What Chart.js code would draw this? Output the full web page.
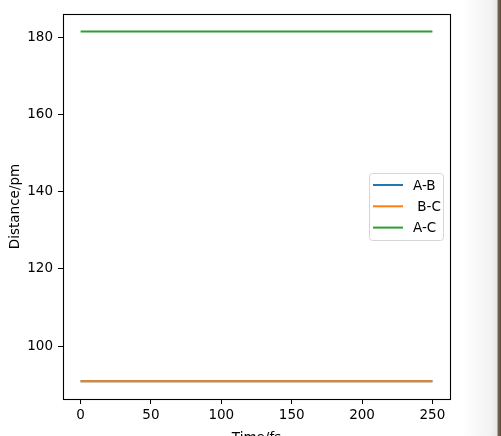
<!DOCTYPE html>
<html><head><meta charset="utf-8">
<script src="https://cdn.jsdelivr.net/npm/chart.js@4"></script>
<style>
html,body{margin:0;padding:0;}
body{width:501px;height:436px;overflow:hidden;background:linear-gradient(to right,#ffffff 0px,#ffffff 462px,#f3f3f3 490px,#e8e8e8 497px,#7a6650 498px,#5a4a3a 501px);}
#wrap{position:absolute;left:0;top:0;width:501px;height:436px;}
</style></head>
<body><div id="wrap"><canvas id="c" width="501" height="436"></canvas></div>
<script>
const times = [0, 25, 50, 75, 100, 125, 150, 175, 200, 225, 250];
const seriesLabels = ["A-B", " B-C", "A-C"];
const abValues = [90.9, 90.9, 90.9, 90.9, 90.9, 90.9, 90.9, 90.9, 90.9, 90.9, 90.9];
const bcValues = [90.9, 90.9, 90.9, 90.9, 90.9, 90.9, 90.9, 90.9, 90.9, 90.9, 90.9];
const acValues = [181.5, 181.5, 181.5, 181.5, 181.5, 181.5, 181.5, 181.5, 181.5, 181.5, 181.5];
const xTicks = [0, 50, 100, 150, 200, 250];
const yTicks = [100, 120, 140, 160, 180];
const colors = ["#1f77b4", "#ff7f0e", "#2ca02c"];
const FONT = "DejaVu Sans";
const FS = 13.5;

const mk = (vals) => times.map((t, i) => ({x: t, y: vals[i]}));

const framePlugin = {
  id: 'frame',
  afterDraw(chart) {
    const {ctx, chartArea: a} = chart;
    ctx.save();
    ctx.strokeStyle = '#000'; ctx.lineWidth = 1.1;
    ctx.strokeRect(Math.round(a.left)+0.5, Math.round(a.top)+0.5, Math.round(a.right-a.left), Math.round(a.bottom-a.top));
    // axis titles
    ctx.fillStyle = '#000';
    ctx.font = FS + 'px "' + FONT + '"';
    ctx.textAlign = 'center'; ctx.textBaseline = 'alphabetic';
    ctx.fillText('Time/fs', (a.left + a.right) / 2, 442);
    ctx.save();
    ctx.translate(18.5, (a.top + a.bottom) / 2);
    ctx.rotate(-Math.PI / 2);
    ctx.fillText('Distance/pm', 0, 0);
    ctx.restore();
    // legend
    const lx = 369.5, ly = 173.5, lw = 74, lh = 67;
    ctx.fillStyle = 'rgba(255,255,255,0.8)';
    ctx.strokeStyle = '#d6d6d6'; ctx.lineWidth = 1;
    ctx.beginPath();
    if (ctx.roundRect) ctx.roundRect(lx, ly, lw, lh, 3); else ctx.rect(lx, ly, lw, lh);
    ctx.fill(); ctx.stroke();
    ctx.textAlign = 'left'; ctx.textBaseline = 'middle';
    chart.data.datasets.forEach((ds, i) => {
      const y = 185 + i * 21.3;
      ctx.strokeStyle = ds.borderColor; ctx.lineWidth = 2;
      ctx.beginPath(); ctx.moveTo(373, y); ctx.lineTo(403, y); ctx.stroke();
      ctx.fillStyle = '#000';
      ctx.fillText(ds.label, 413, y + 1);
    });
    ctx.restore();
  }
};

new Chart(document.getElementById('c'), {
  type: 'line',
  data: {
    datasets: [
      {label: seriesLabels[0], data: mk(abValues), borderColor: colors[0], borderWidth: 2, pointRadius: 0, fill: false, order: 3},
      {label: seriesLabels[1], data: mk(bcValues), borderColor: colors[1], borderWidth: 2, pointRadius: 0, fill: false, order: 2},
      {label: seriesLabels[2], data: mk(acValues), borderColor: colors[2], borderWidth: 2, pointRadius: 0, fill: false, order: 1}
    ]
  },
  options: {
    responsive: false, animation: false, devicePixelRatio: 1,
    layout: {padding: {left: 0, right: 51, top: 14, bottom: 0}},
    plugins: {legend: {display: false}, tooltip: {enabled: false}},
    scales: {
      x: {
        type: 'linear', min: -12.5, max: 262.5,
        afterFit(s) { s.height = 37; },
        afterBuildTicks(s) { s.ticks = xTicks.map(v => ({value: v})); },
        grid: {display: true, drawOnChartArea: false, drawTicks: true, tickLength: 5, color: '#000', lineWidth: 1},
        border: {display: true, color: '#000', width: 1},
        ticks: {color: '#000', font: {family: FONT, size: FS}, padding: 3, maxRotation: 0, autoSkip: false}
      },
      y: {
        type: 'linear', min: 86.3, max: 186.0,
        afterFit(s) { s.width = 63; },
        afterBuildTicks(s) { s.ticks = yTicks.map(v => ({value: v})); },
        grid: {display: true, drawOnChartArea: false, drawTicks: true, tickLength: 5, color: '#000', lineWidth: 1},
        border: {display: true, color: '#000', width: 1},
        ticks: {color: '#000', font: {family: FONT, size: FS}, padding: 5, autoSkip: false}
      }
    }
  },
  plugins: [framePlugin]
});
</script></body></html>
